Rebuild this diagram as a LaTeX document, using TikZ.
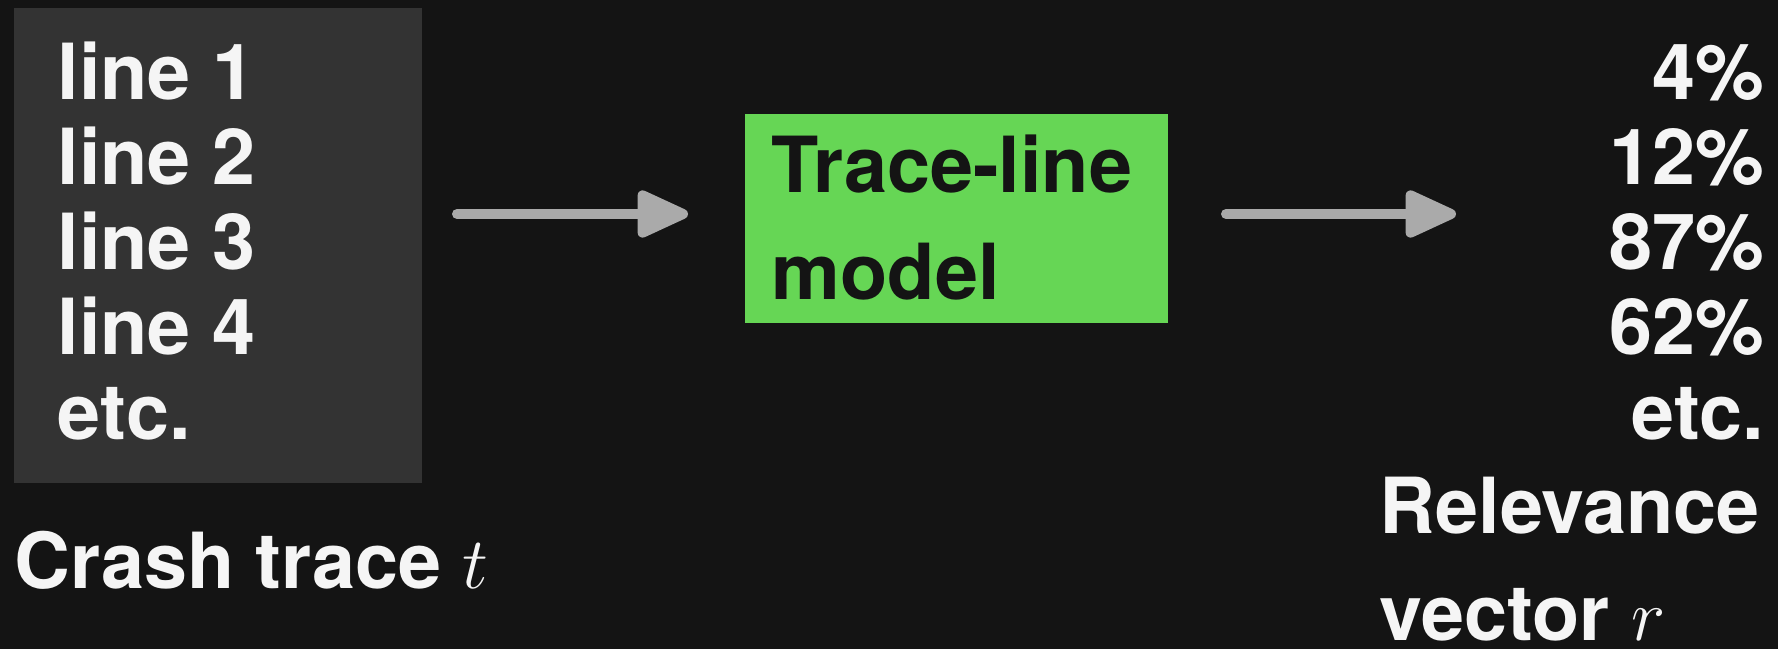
\documentclass[tikz,border=0pt]{standalone}
\usepackage{fontspec}
\setmainfont{TeX Gyre Heros}
\usetikzlibrary{arrows.meta}
\definecolor{bgdark}{HTML}{141414}
\definecolor{boxgrey}{HTML}{333333}
\definecolor{modelgreen}{HTML}{66D655}
\definecolor{arrowgrey}{HTML}{AAAAAA}
\definecolor{textwhite}{HTML}{F5F5F5}

\begin{document}
\begin{tikzpicture}[x=0.01cm,y=-0.01cm,
    every node/.style={font=\fontsize{22}{24}\selectfont\bfseries,inner sep=0pt},
    word/.style={text=textwhite},
    flow/.style={arrowgrey,line width=0.1cm,line cap=round,
      -{Triangle[round,length=0.58cm,width=0.5cm]}}]
    \useasboundingbox (0,0) rectangle (1778,649);
    \fill[bgdark] (0,0) rectangle (1778,649);
    \node[fill=boxgrey,minimum width=4.08cm,minimum height=4.75cm] (trace) at (218,245.5) {};
    \node[fill=modelgreen,minimum width=4.23cm,minimum height=2.09cm] (model) at (956.5,218.5) {};
    \foreach \txt [count=\i] in {line 1,line 2,line 3,line 4,etc.}
      \node[word,anchor=base west] (line\i) at (57,{15+85*\i}) {\txt};
    \foreach \txt [count=\i] in {4\%,12\%,87\%,62\%,etc.}
      \node[word,anchor=base east] (score\i) at (1765,{15+85*\i}) {\txt};
    \node[text=bgdark,anchor=base west] (model1) at (771,193) {Trace-line};
    \node[text=bgdark,anchor=base west] (model2) at (771,300) {model};
    \node[word,anchor=base west] (tracename) at (14,589) {Crash trace $t$};
    \node[word,anchor=base west] (relname1) at (1379,534) {Relevance};
    \node[word,anchor=base west] (relname2) at (1379,640) {vector $r$};
    \coordinate (traceout) at (457,214);
    \coordinate (modelin) at (688,214);
    \coordinate (modelout) at (1226,214);
    \coordinate (scorein) at (1456,214);
    \draw[flow] (traceout) to (modelin);
    \draw[flow] (modelout) to (scorein);
  \end{tikzpicture}
\end{document}
